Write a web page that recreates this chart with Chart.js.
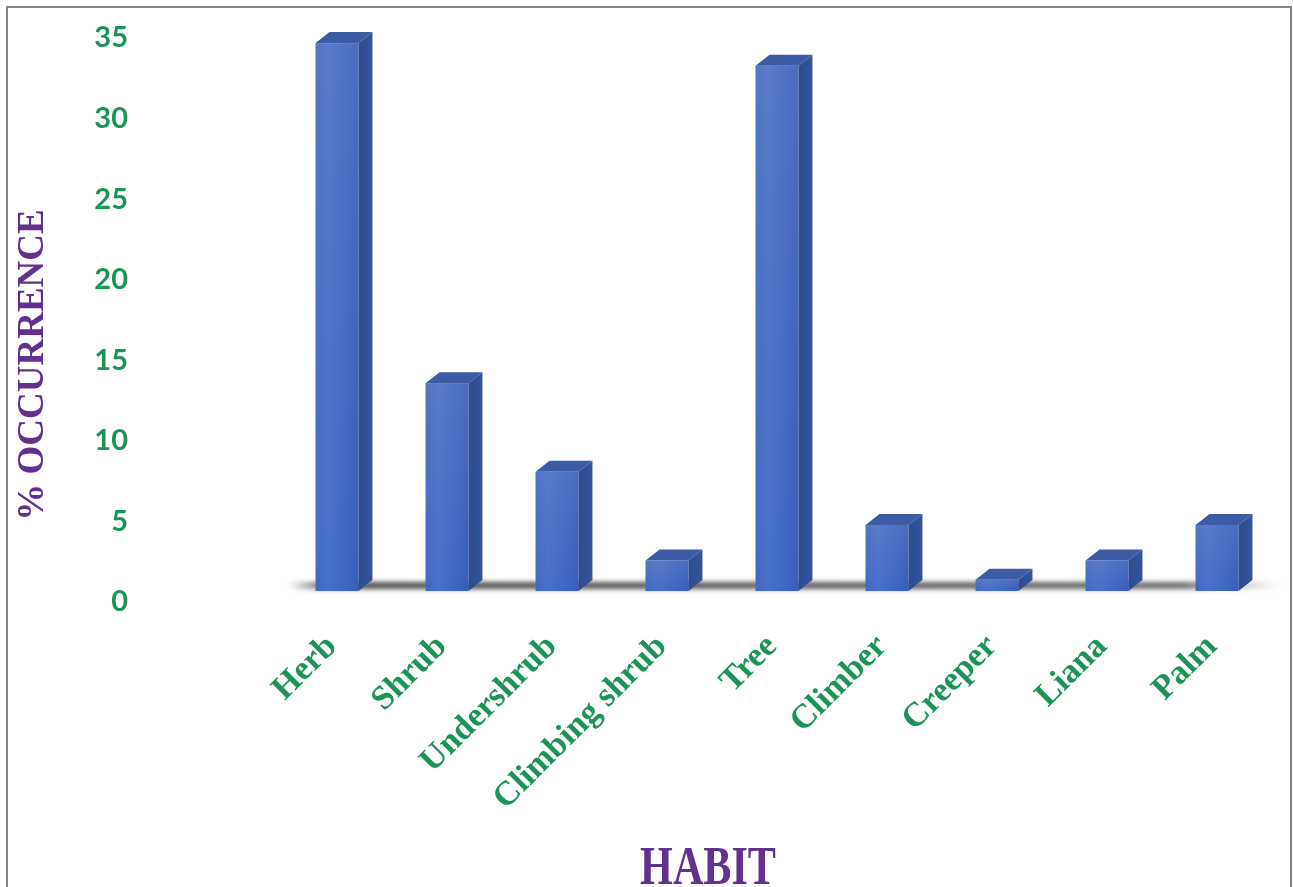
<!DOCTYPE html>
<html>
<head>
<meta charset="utf-8">
<script src="https://cdn.jsdelivr.net/npm/chart.js@4.4.0/dist/chart.umd.min.js"></script>
<style>
  body { margin: 0; background: #fff; }
  #wrap { position: relative; width: 1293px; height: 887px; overflow: hidden; }
  #frame { position: absolute; left: 6px; top: 6px; width: 1286px; height: 900px; border: 2px solid #858585; box-sizing: border-box; }
  #habitChart { position: absolute; left: 0; top: 0; }
</style>
</head>
<body>
<div id="wrap">
  <div id="frame"></div>
  <canvas id="habitChart" width="1293" height="887"></canvas>
</div>
<script>
var habits = ['Herb', 'Shrub', 'Undershrub', 'Climbing shrub', 'Tree', 'Climber', 'Creeper', 'Liana', 'Palm'];
var occurrence = [34.0, 12.9, 7.4, 1.9, 32.6, 4.1, 0.7, 1.9, 4.1];
var yTicks = [0, 5, 10, 15, 20, 25, 30, 35];
var yTitle = '% OCCURRENCE';
var xTitle = 'HABIT';

var green = '#1b9455';
var purple = '#62308f';

// draws the floor shadow and the 3d columns on top of the (invisible) bar elements
var bars3d = {
    id: 'bars3d',
    afterDatasetsDraw: function(chart) {
        var ctx = chart.ctx;
        var area = chart.chartArea;
        var meta = chart.getDatasetMeta(0);
        var dx = 14, dy = 11;

        ctx.save();
        var sh = ctx.createLinearGradient(area.left + 6, 0, area.right + 10, 0);
        sh.addColorStop(0, 'rgba(70,70,70,0)');
        sh.addColorStop(0.04, 'rgba(45,45,45,0.85)');
        sh.addColorStop(0.9, 'rgba(55,55,55,0.75)');
        sh.addColorStop(1, 'rgba(120,120,120,0)');
        ctx.filter = 'blur(2.5px)';
        ctx.fillStyle = sh;
        ctx.fillRect(area.left + 6, area.bottom - 9, area.right - area.left + 4, 7);
        ctx.restore();

        meta.data.forEach(function(bar) {
            var left = bar.x - bar.width / 2;
            var right = bar.x + bar.width / 2;
            var top = bar.y;
            var bottom = bar.base;

            ctx.save();
            // side
            var sg = ctx.createLinearGradient(right, 0, right + dx, 0);
            sg.addColorStop(0, '#2c4c8e');
            sg.addColorStop(1, '#34559a');
            ctx.fillStyle = sg;
            ctx.beginPath();
            ctx.moveTo(right, top);
            ctx.lineTo(right + dx, top - dy);
            ctx.lineTo(right + dx, bottom - dy);
            ctx.lineTo(right, bottom);
            ctx.closePath();
            ctx.fill();

            // top
            ctx.fillStyle = '#3b5ca4';
            ctx.beginPath();
            ctx.moveTo(left, top);
            ctx.lineTo(left + dx, top - dy);
            ctx.lineTo(right + dx, top - dy);
            ctx.lineTo(right, top);
            ctx.closePath();
            ctx.fill();

            // front
            var fg = ctx.createLinearGradient(left, 0, right, 0);
            fg.addColorStop(0, '#4a70c6');
            fg.addColorStop(0.3, '#5279cc');
            fg.addColorStop(1, '#3d64bf');
            ctx.fillStyle = fg;
            ctx.fillRect(left, top, right - left, bottom - top);
            var vg = ctx.createLinearGradient(0, top, 0, bottom);
            vg.addColorStop(0, 'rgba(120,140,190,0.18)');
            vg.addColorStop(1, 'rgba(20,60,170,0.15)');
            ctx.fillStyle = vg;
            ctx.fillRect(left, top, right - left, bottom - top);
            ctx.restore();
        });
    }
};

var axisTitles = {
    id: 'axisTitles',
    afterDraw: function(chart) {
        var ctx = chart.ctx;
        ctx.save();
        ctx.fillStyle = purple;
        ctx.textAlign = 'center';
        ctx.textBaseline = 'middle';
        ctx.font = 'bold 37px "Liberation Serif"';
        ctx.translate(33, 365);
        ctx.rotate(-Math.PI / 2);
        ctx.fillText(yTitle, 0, 0);
        ctx.restore();

        ctx.save();
        ctx.fillStyle = purple;
        ctx.textAlign = 'center';
        ctx.textBaseline = 'alphabetic';
        ctx.font = 'bold 54px "Liberation Serif"';
        ctx.translate(708, 884);
        ctx.scale(0.78, 1);
        ctx.fillText(xTitle, 0, 0);
        ctx.restore();
    }
};

var ctx = document.getElementById('habitChart').getContext('2d');

var habitChart = new Chart(ctx, {
    type: 'bar',
    data: {
        labels: habits,
        datasets: [{
            data: occurrence,
            backgroundColor: 'rgba(0,0,0,0)',
            borderWidth: 0,
            categoryPercentage: 1,
            barPercentage: 0.39
        }]
    },
    options: {
        responsive: false,
        animation: false,
        layout: { padding: { top: 27, right: 21, bottom: 0, left: 0 } },
        plugins: {
            legend: { display: false },
            tooltip: { enabled: false }
        },
        scales: {
            x: {
                grid: { display: false, drawTicks: false },
                border: { display: false },
                ticks: {
                    color: green,
                    font: { family: '"Liberation Serif"', size: 34, weight: 'bold' },
                    minRotation: 45,
                    maxRotation: 45,
                    autoSkip: false,
                    padding: 36,
                    labelOffset: -5
                },
                afterFit: function(scale) { scale.height = 296; }
            },
            y: {
                min: 0,
                max: 35,
                grid: { display: false, drawTicks: false },
                border: { display: false },
                afterBuildTicks: function(scale) {
                    scale.ticks = yTicks.map(function(v) { return { value: v }; });
                },
                ticks: {
                    color: green,
                    font: { family: 'Lato', size: 29, weight: 'bold' },
                    padding: 154,
                    labelOffset: 11
                },
                afterFit: function(scale) {
                    // the big label padding should not push the plot area down
                    scale.width = 282;
                    scale.paddingTop = 10;
                    scale.paddingBottom = 0;
                }
            }
        }
    },
    plugins: [bars3d, axisTitles]
});
</script>
</body>
</html>
